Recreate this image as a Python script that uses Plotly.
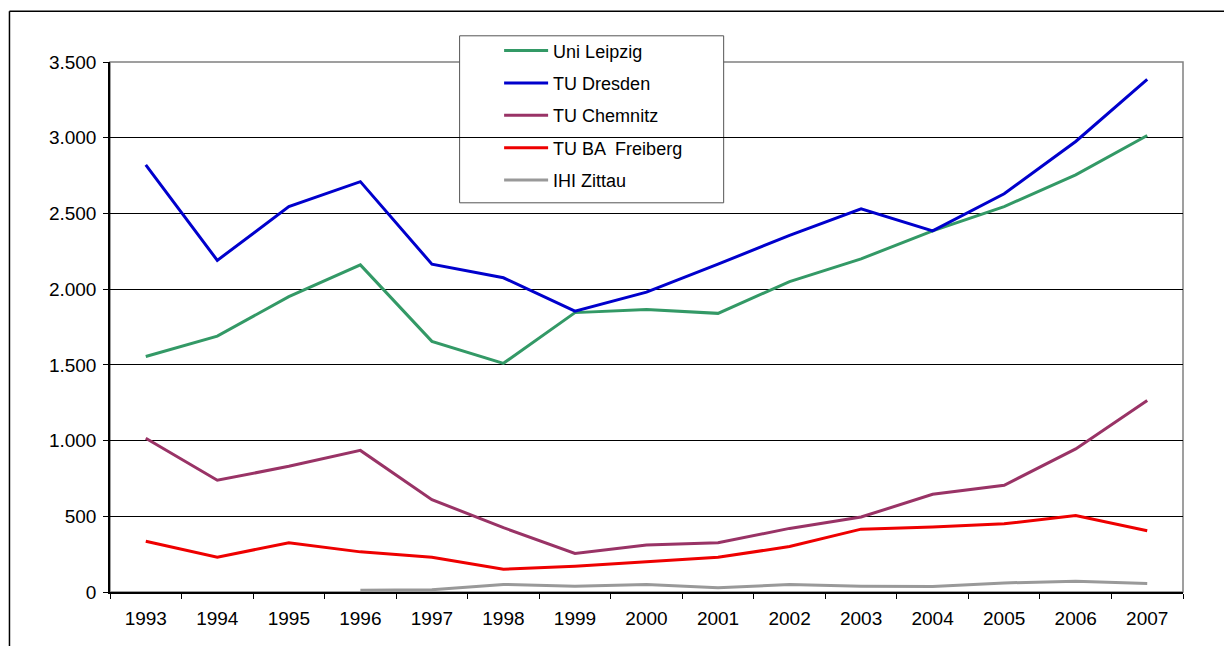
import plotly.graph_objects as go

years = [str(y) for y in range(1993, 2008)]
leipzig = [1555, 1690, 1950, 2160, 1655, 1510, 1845, 1865, 1840, 2050, 2200, 2385, 2545, 2755, 3015]
dresden = [2820, 2190, 2545, 2710, 2165, 2075, 1855, 1980, 2165, 2355, 2530, 2385, 2630, 2975, 3385]
chemnitz = [1015, 738, 830, 935, 610, 425, 255, 310, 325, 420, 495, 645, 705, 945, 1265]
freiberg = [335, 230, 325, 265, 230, 150, 170, 200, 230, 300, 415, 430, 450, 505, 405]
zittau = [None, None, None, 12, 15, 50, 38, 49, 28, 49, 38, 36, 60, 71, 56]

series = [
    ("Uni Leipzig", leipzig, "#339966"),
    ("TU Dresden", dresden, "#0000CC"),
    ("TU Chemnitz", chemnitz, "#993366"),
    ("TU BA  Freiberg", freiberg, "#EE0000"),
    ("IHI Zittau", zittau, "#999999"),
]

FONT = "Liberation Sans, Arial, sans-serif"

fig = go.Figure()
for name, vals, col in series:
    fig.add_trace(go.Scatter(
        x=years, y=vals, name=name, mode="lines",
        line=dict(color=col, width=3), legendgroup=name,
    ))

# page body has an 8px margin; work in reference coordinates, then offset
OFF = 8
W, H = 1232 - OFF, 646 - OFF
L, R, T, B = 110, 1182.7, 61.7, 591.7
pw, ph = R - L, B - T

def px(x):
    return (x - L) / pw

def py(y):
    return (B - y) / ph

shapes = [
    dict(type="rect", xref="paper", yref="paper", x0=0, x1=1, y0=0, y1=1,
         line=dict(color="#808080", width=1.5), layer="below"),
    dict(type="line", xref="paper", yref="paper", x0=px(9.5), x1=px(1240), y0=py(11), y1=py(11),
         line=dict(color="#000000", width=1.5)),
    dict(type="line", xref="paper", yref="paper", x0=px(9.5), x1=px(9.5), y0=py(11), y1=py(660),
         line=dict(color="#000000", width=1.5)),
    dict(type="rect", xref="paper", yref="paper", x0=px(459.5), x1=px(723.5), y0=py(202.5), y1=py(35.5),
         line=dict(color="#555555", width=1), fillcolor="white", layer="between"),
]

fig.update_layout(
    width=W, height=H,
    margin=dict(l=L - OFF, r=1232 - R, t=T - OFF, b=646 - B),
    paper_bgcolor="white", plot_bgcolor="white",
    font=dict(family=FONT, size=19, color="#000000"),
    separators=",.",
    showlegend=True,
    legend=dict(
        x=px(499), y=py(32), xanchor="left", yanchor="top",
        bgcolor="rgba(0,0,0,0)", borderwidth=0,
        font=dict(family=FONT, size=18, color="#000000"),
        tracegroupgap=6, itemwidth=44,
    ),
    shapes=shapes,
    xaxis=dict(
        type="category", range=[-0.5, 14.5], tickson="boundaries",
        ticks="outside", ticklen=5, tickcolor="#000", tickwidth=1,
        showline=True, linecolor="#000", linewidth=1.5,
        showgrid=False, zeroline=False, ticklabelstandoff=8,
        tickfont=dict(family=FONT, size=19),
    ),
    yaxis=dict(
        range=[0, 3500], tickvals=[0, 500, 1000, 1500, 2000, 2500, 3000, 3500],
        tickformat=",d", ticks="outside", ticklen=5, tickcolor="#000",
        showline=True, linecolor="#000", linewidth=1.5,
        showgrid=True, gridcolor="#000000", gridwidth=1, zeroline=False,
        ticklabelstandoff=3,
        tickfont=dict(family=FONT, size=19),
    ),
)

fig.write_html("out.html")
